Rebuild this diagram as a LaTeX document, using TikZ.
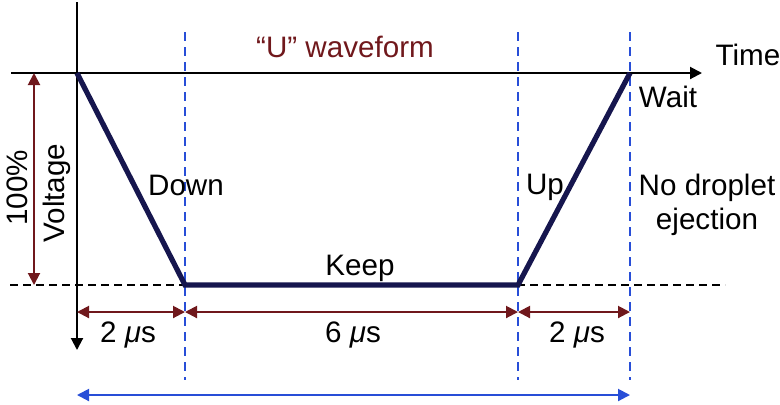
\documentclass[tikz,border=0pt]{standalone}
\usepackage{fontspec}
\setmainfont{Liberation Sans}
\usetikzlibrary{arrows.meta,positioning}
\definecolor{wine}{RGB}{112,24,28}
\definecolor{navy}{RGB}{22,22,78}
\definecolor{guideblue}{RGB}{40,78,215}

\tikzset{
  lbl/.style={font=\fontsize{14.8}{17}\selectfont, inner sep=0pt},
  span/.style={wine, line width=1pt, {Triangle[length=6pt,width=6pt]}-{Triangle[length=6pt,width=6pt]}},
  guide/.style={guideblue, line width=0.7pt, dash pattern=on 4.5pt off 3pt},
  level/.style={black, line width=0.7pt, dash pattern=on 4pt off 2.5pt},
  wave/.style={navy, line width=2.6pt, line join=miter}
}

\begin{document}
\begin{tikzpicture}[x=0.5pt,y=-0.5pt]
\useasboundingbox (0,0) rectangle (780,404);

% corners of the waveform
\coordinate (start) at (77,73);
\coordinate (down) at (185,285);
\coordinate (keep) at (518,285);
\coordinate (wait) at (630,73);

% guides
\draw[guide] (185,32) -- (185,380);
\draw[guide] (518,32) -- (518,380);
\draw[guide] (630,32) -- (630,380);
\draw[level] (10,285) -- (725,285);

% axes
\coordinate (tleft) at (11,73);
\coordinate (tright) at (702,73);
\coordinate (vtop) at (77,2);
\coordinate (vbot) at (77,350);
\draw[line width=1pt, -{Triangle[length=6pt,width=6pt]}] (tleft) -- (tright);
\draw[line width=1pt, -{Triangle[length=6pt,width=6pt]}] (vtop) -- (vbot);

% the waveform
\draw[wave] (start) -- (down) -- (keep) -- (wait);

% 100% bar
\coordinate (ptop) at (34,73);
\coordinate (pbot) at (34,285);
\draw[span] (ptop) -- (pbot);

% time spans
\coordinate (s0) at (77,312);
\coordinate (s1) at (185,312);
\coordinate (s2) at (518,312);
\coordinate (s3) at (630,312);
\draw[span] (s0) -- (s1);
\draw[span] (s1) -- (s2);
\draw[span] (s2) -- (s3);

% whole cycle
\coordinate (c0) at (77,395);
\coordinate (c1) at (630,395);
\draw[guideblue, line width=1pt, {Triangle[length=6pt,width=6pt]}-{Triangle[length=6pt,width=6pt]}] (c0) -- (c1);

% labels
\node[lbl, wine] (title) at (345,47) {“U” waveform};
\node[lbl] (time) at (748,55) {Time};
\node[lbl] (waitlbl) at (668,97) {Wait};
\node[lbl] (downlbl) at (186,185) {Down};
\node[lbl] (keeplbl) at (360,268) {Keep};
\node[lbl] (uplbl) at (545,187) {Up};
\node[lbl, align=center] (nodrop) at (707,205) {No droplet\\ejection};
\node[lbl, rotate=90] (pct) at (17,188) {100\%};
\node[lbl, rotate=90] (volt) at (57,193) {Voltage};
\node[lbl] (t1) at (128,335) {2 \textit{μ}s};
\node[lbl] (t2) at (353,335) {6 \textit{μ}s};
\node[lbl] (t3) at (577,335) {2 \textit{μ}s};
\end{tikzpicture}
\end{document}
